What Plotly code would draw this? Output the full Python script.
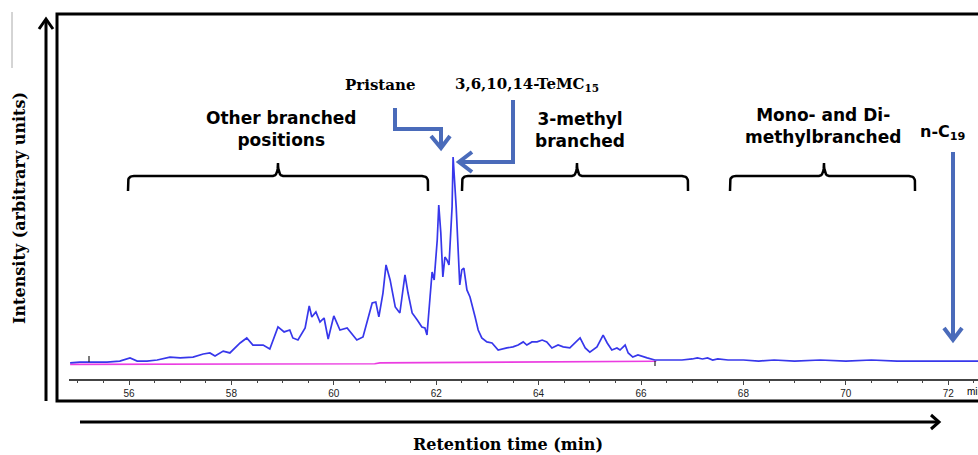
import plotly.graph_objects as go

# ---------------- data ----------------
retention_time = [54.85, 55.04, 55.24, 55.57, 55.82, 56.02, 56.16, 56.35, 56.55, 56.80,
                  57.00, 57.25, 57.45, 57.58, 57.68, 57.84, 57.97, 58.17, 58.30, 58.42,
                  58.62, 58.75, 58.91, 59.03, 59.14, 59.20, 59.30, 59.44, 59.52, 59.57,
                  59.65, 59.73, 59.81, 59.89, 60.00, 60.12, 60.26, 60.45, 60.57, 60.75,
                  60.82, 60.88, 60.96, 61.02, 61.10, 61.20, 61.29, 61.39, 61.45, 61.53,
                  61.63, 61.72, 61.78, 61.82, 61.88, 61.92, 61.96, 62.02, 62.05, 62.09,
                  62.13, 62.17, 62.21, 62.25, 62.31, 62.33, 62.39, 62.43, 62.46, 62.50,
                  62.54, 62.60, 62.66, 62.76, 62.82, 62.89, 62.99, 63.09, 63.21, 63.38,
                  63.50, 63.60, 63.70, 63.77, 63.87, 63.97, 64.07, 64.16, 64.26, 64.38,
                  64.48, 64.61, 64.71, 64.81, 64.91, 65.00, 65.14, 65.26, 65.34, 65.43,
                  65.53, 65.59, 65.69, 65.75, 65.84, 65.94, 66.12, 66.27, 66.50, 66.80,
                  67.00, 67.10, 67.20, 67.30, 67.40, 67.50, 67.70, 68.00, 68.30, 68.60,
                  69.00, 69.50, 70.00, 70.50, 71.00, 71.50, 72.00, 72.60]
intensity = [1.0, 1.4, 1.4, 1.4, 1.9, 3.4, 1.9, 1.9, 2.4, 3.8,
             3.4, 3.8, 5.3, 5.8, 4.3, 6.7, 5.8, 10.6, 13.0, 9.6,
             9.6, 7.7, 18.3, 15.9, 16.8, 13.0, 12.0, 17.8, 28.4, 23.1,
             25.5, 20.7, 22.6, 12.5, 23.6, 16.8, 17.8, 12.0, 13.5, 29.8,
             30.3, 23.1, 34.6, 48.1, 40.9, 27.9, 25.0, 43.3, 34.6, 25.0,
             21.6, 18.3, 17.8, 14.4, 32.7, 44.7, 40.9, 60.1, 76.9, 63.5,
             42.3, 51.9, 50.5, 48.1, 76.0, 100.0, 76.0, 51.9, 38.5, 45.7,
             46.6, 36.1, 32.7, 23.1, 16.8, 13.0, 11.1, 10.6, 7.2, 8.2,
             8.7, 9.6, 11.1, 9.6, 11.1, 11.1, 12.0, 11.1, 8.2, 9.6,
             8.7, 8.2, 10.6, 13.0, 8.2, 6.2, 8.7, 14.4, 10.6, 7.2,
             8.2, 7.2, 9.6, 5.8, 3.8, 4.8, 3.4, 2.4, 2.4, 2.4,
             2.9, 3.4, 2.9, 3.4, 2.4, 2.9, 2.4, 2.4, 1.9, 2.4,
             1.9, 2.4, 1.9, 2.4, 1.9, 1.9, 1.9, 1.9]

baseline_time = [54.85, 57.00, 60.80, 60.90, 66.30]
baseline_intensity = [0.3, 0.3, 0.6, 1.0, 1.8]

tick_values = [56, 58, 60, 62, 64, 66, 68, 70, 72]
tick_labels = ["56", "58", "60", "62", "64", "66", "68", "70", "72"]

# ---------------- figure ----------------
W, H = 978, 455


def px(x):
    return x / W


def py(y):
    return 1 - y / H


fig = go.Figure()
fig.add_trace(go.Scatter(x=baseline_time, y=baseline_intensity, mode="lines",
                         line=dict(color="rgb(235,60,225)", width=1.6), hoverinfo="skip"))
fig.add_trace(go.Scatter(x=retention_time, y=intensity, mode="lines",
                         line=dict(color="rgb(55,55,235)", width=1.7), hoverinfo="skip"))

fig.update_layout(
    width=W, height=H, autosize=False,
    margin=dict(l=0, r=0, t=0, b=0, pad=0),
    paper_bgcolor="white", plot_bgcolor="rgba(0,0,0,0)",
    showlegend=False,
    xaxis=dict(domain=[px(69), 1.0], range=[54.828, 72.582],
               showgrid=False, zeroline=False,
               showline=True, linecolor="#444", linewidth=1.5,
               ticks="outside", ticklen=4, tickwidth=1, tickcolor="#444",
               tickvals=tick_values, ticktext=tick_labels,
               tickfont=dict(family="Liberation Sans, Arial", size=10, color="#222"),
               minor=dict(dtick=0.5, tick0=0, ticks="outside", ticklen=2,
                          tickwidth=1, tickcolor="#444"),
               fixedrange=True),
    yaxis=dict(domain=[py(379), py(14)], range=[-6.73, 168.75], visible=False,
               fixedrange=True),
    # full-page overlay (pixel units) used only for the decorative arrows / braces
    xaxis2=dict(domain=[0, 1], range=[0, W], visible=False, anchor="y2", fixedrange=True),
    yaxis2=dict(domain=[0, 1], range=[H, 0], visible=False, anchor="x2", fixedrange=True),
)

black = "black"
blue = "rgb(74,107,186)"


def deco(points, color, width):
    xs = [p[0] if p is not None else None for p in points]
    ys = [p[1] if p is not None else None for p in points]
    fig.add_trace(go.Scatter(x=xs, y=ys, xaxis="x2", yaxis="y2", mode="lines",
                             line=dict(color=color, width=width), hoverinfo="skip",
                             connectgaps=False))


def qbez(p0, p1, p2, n=8):
    pts = []
    for i in range(n + 1):
        t = i / n
        x = (1 - t) ** 2 * p0[0] + 2 * (1 - t) * t * p1[0] + t ** 2 * p2[0]
        y = (1 - t) ** 2 * p0[1] + 2 * (1 - t) * t * p1[1] + t ** 2 * p2[1]
        pts.append((x, y))
    return pts


# frame
deco([(990, 14), (57, 14), (57, 401), (990, 401)], black, 3)
# left vertical arrow
deco([(46, 401), (46, 20), None, (39, 29), (46, 19), (53, 29)], black, 3)
# bottom horizontal arrow
deco([(80, 422), (938, 422), None, (931, 415), (939, 422), (931, 429)], black, 3)
# thin grey line top-left
deco([(12, 12), (12, 68)], "#aaa", 1)


def brace(x1, x2, xc, ytop=176, yend=191, ytip=163, r=6):
    pts = [(x1, yend), (x1, ytop + r)]
    pts += qbez((x1, ytop + r), (x1, ytop), (x1 + r, ytop))
    pts += [(xc - 5, ytop)]
    pts += qbez((xc - 5, ytop), (xc, ytop), (xc, ytip))
    pts += qbez((xc, ytip), (xc, ytop), (xc + 5, ytop))
    pts += [(x2 - r, ytop)]
    pts += qbez((x2 - r, ytop), (x2, ytop), (x2, ytop + r))
    pts += [(x2, yend)]
    deco(pts, black, 2.5)


brace(128, 428, 278)
brace(462, 688, 577)
brace(730, 915, 824)

# blue pointer arrows
deco([(395, 108), (395, 129), (441, 129), (441, 146), None,
      (431, 136), (441, 148), (450, 136)], blue, 4)
deco([(513, 100), (513, 162), (461, 162), None,
      (472, 152), (459, 162), (472, 172)], blue, 4)
deco([(953, 152), (953, 338), None, (944, 328), (953, 340), (962, 328)], blue, 4)

# integration markers
deco([(89, 356), (89, 362), None, (655, 361), (655, 366)], "#222", 1.2)

sans = "DejaVu Sans, Verdana, Arial"
serif = "DejaVu Serif, Liberation Serif, Times New Roman"


def label(text, x, y, family, size, **kw):
    fig.add_annotation(text=text, x=px(x), y=py(y), xref="paper", yref="paper",
                       showarrow=False, font=dict(family=family, size=size, color="black"),
                       xanchor=kw.pop("xanchor", "center"), yanchor="middle", **kw)


label("<b>Other branched<br>positions</b>", 281, 129, sans, 17)
label("<b>Pristane</b>", 380, 85, serif, 15)
label("<b>3,6,10,14-TeMC<sub>15</sub></b>", 527, 84, serif, 15)
label("<b>3-methyl<br>branched</b>", 580, 130, sans, 17)
label("<b>Mono- and Di-<br>methylbranched</b>", 823, 126, sans, 17)
label("<b>n-C<sub>19</sub></b>", 943, 132, sans, 16)
label("<b>Retention time (min)</b>", 508, 444, serif, 16)
label("<b>Intensity (arbitrary units)</b>", 20, 208, serif, 16, textangle=-90)
label("min", 965, 391, "Liberation Sans, Arial", 10, xanchor="left")

fig.write_html("out.html", config={"displayModeBar": False},
               post_script="document.body.style.margin='0px';document.body.style.overflow='hidden';")
